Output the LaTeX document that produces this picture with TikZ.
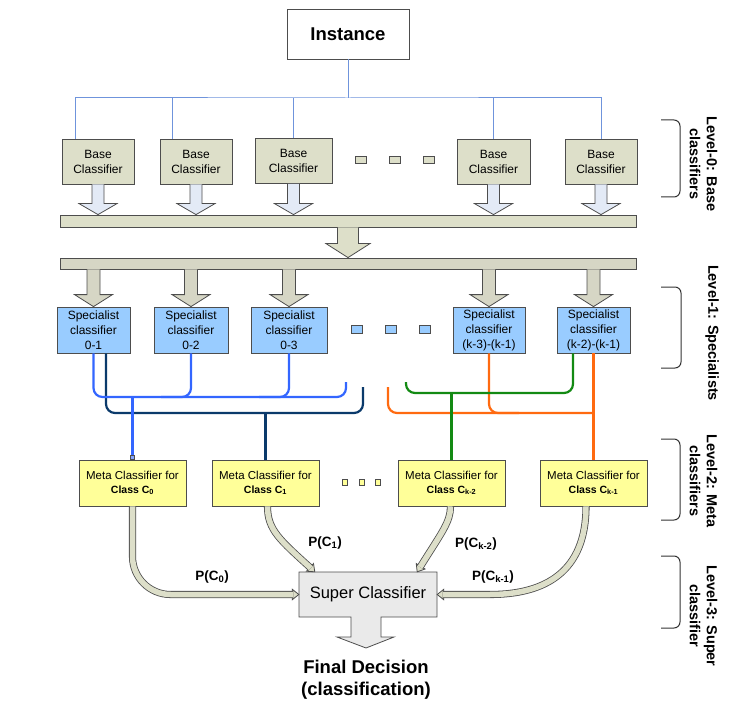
\documentclass[tikz,border=0pt]{standalone}
\usepackage{fontspec}
\setmainfont{Liberation Sans}
\usetikzlibrary{calc}

\definecolor{baseFill}{HTML}{DDDFC9}
\definecolor{barGray}{HTML}{D6D6C5}
\definecolor{blockBlue}{HTML}{E3EAF6}
\definecolor{specFill}{HTML}{99CCFF}
\definecolor{metaFill}{HTML}{FFFF99}
\definecolor{superFill}{HTML}{EAEAEA}
\definecolor{edgeGray}{HTML}{4D4D4D}
\definecolor{instLine}{HTML}{6F94DC}
\definecolor{wireBlue}{HTML}{3366FF}
\definecolor{wireNavy}{HTML}{0B3A6B}
\definecolor{wireOrange}{HTML}{FF6A10}
\definecolor{wireGreen}{HTML}{138A13}

% straight block arrow pointing down: style, from, to, shaft half width, head half width, head length
\newcommand\blockdown[6]{%
  \filldraw[#1] let \p1=(#2), \p2=(#3) in
    (\x1-#4,\y1) -- (\x1-#4,\y2+#6) -- (\x1-#5,\y2+#6) -- (\x1,\y2)
    -- (\x1+#5,\y2+#6) -- (\x1+#4,\y2+#6) -- (\x1+#4,\y1);}

% head of a hollow curved arrow: tip, point behind the tip, name of the shaft end
\newcommand\fathead[3]{%
  \path ($(#1)!6.5pt!(#2)$) coordinate (#3-b) ($(#1)!5.5pt!(#2)$) coordinate (#3);
  \filldraw[fatheadstyle] ($(#3-b)!5.2pt!90:(#1)$) -- (#1) -- ($(#3-b)!5.2pt!-90:(#1)$) -- cycle;}

\begin{document}
\begin{tikzpicture}[x=1pt,y=-1pt,
  box/.style={draw=edgeGray, line width=0.8pt, inner sep=0pt, align=center},
  instbox/.style={box, fill=white, minimum width=122pt, minimum height=50pt,
    font=\bfseries\fontsize{18.5}{22}\selectfont},
  basebox/.style={box, fill=baseFill, minimum width=72pt, minimum height=45pt,
    font=\fontsize{12}{15}\selectfont},
  specbox/.style={box, fill=specFill, minimum width=73pt, minimum height=46pt,
    font=\fontsize{12}{15}\selectfont},
  metabox/.style={box, fill=metaFill, minimum width=107pt, minimum height=46pt,
    font=\fontsize{11.5}{14}\selectfont},
  bar/.style={draw=edgeGray, line width=0.8pt, inner sep=0pt, minimum width=576pt},
  dotbox/.style={draw=edgeGray, line width=0.6pt, inner sep=0pt},
  smallarrow/.style={draw=edgeGray, line width=0.8pt, fill=blockBlue},
  midarrow/.style={draw=edgeGray, line width=0.8pt, fill=baseFill},
  specarrow/.style={draw=edgeGray, line width=0.8pt, fill=barGray},
  instwire/.style={draw=instLine, line width=1pt},
  wire/.style={line width=2.2pt, rounded corners=9pt},
  drop/.style={line width=2.2pt},
  fatshaft/.style={draw=edgeGray, line width=0.8pt, double=baseFill, double distance=5.5pt},
  fatheadstyle/.style={draw=edgeGray, line width=0.8pt, fill=baseFill, line join=miter},
  plabel/.style={font=\bfseries\fontsize{13.5}{16}\selectfont},
  brace/.style={draw=black!80, line width=1pt, rounded corners=6pt},
  leveltext/.style={rotate=-90, align=center, inner sep=0pt,
    font=\bfseries\fontsize{14.5}{17}\selectfont}]

\path[use as bounding box] (0,0) rectangle (756,706);

% ---------------- Level 0 ----------------
\node[instbox] (inst) at (348,34) {Instance};

\node[basebox] (b1) at (98,161.5) {Base\\Classifier};
\node[basebox] (b2) at (196,161.5) {Base\\Classifier};
\node[basebox, minimum width=77pt] (b3) at (293.5,161) {Base\\Classifier};
\node[basebox, minimum width=73pt] (b4) at (493.5,161.5) {Base\\Classifier};
\node[basebox] (b5) at (601,161.5) {Base\\Classifier};

\node[dotbox, fill=baseFill, minimum width=11pt, minimum height=7pt] (bd1) at (360.5,160) {};
\node[dotbox, fill=baseFill, minimum width=11pt, minimum height=7pt] (bd2) at (394.5,160) {};
\node[dotbox, fill=baseFill, minimum width=11pt, minimum height=7pt] (bd3) at (428.5,160) {};

\coordinate (ibus) at (348,98);
\coordinate (t1) at ($(b1.north west)+(14,0)$);
\coordinate (t2) at ($(b2.north west)+(13,0)$);
\draw[instwire] (inst.south) -- (ibus);
\draw[instwire] (t1) |- (ibus) -| (b5.north);
\draw[instwire] (t2 |- ibus) -- (t2);
\draw[instwire] (b3.north |- ibus) -- (b3.north);
\draw[instwire] (b4.north |- ibus) -- (b4.north);

% collecting bars
\node[bar, fill=baseFill, minimum height=12pt] (bar1) at (348,221) {};
\node[bar, fill=barGray, minimum height=11pt] (bar2) at (348,263.5) {};

\foreach \b in {b1,b2,b3,b4,b5}{%
  \blockdown{smallarrow}{\b.south}{\b.south |- bar1.north}{6pt}{19pt}{11pt}}
\blockdown{midarrow}{bar1.south}{bar2.north}{10.5pt}{22pt}{14pt}

% ---------------- Level 1 ----------------
\node[specbox] (s1) at (93.5,330) {Specialist\\classifier\\0-1};
\node[specbox, minimum width=74pt] (s2) at (191,330) {Specialist\\classifier\\0-2};
\node[specbox, minimum width=76pt] (s3) at (289,330) {Specialist\\classifier\\0-3};
\node[specbox, minimum width=72pt] (s4) at (489,330) {Specialist\\classifier\\(k-3)-(k-1)};
\node[specbox] (s5) at (593.5,330) {Specialist\\classifier\\(k-2)-(k-1)};

\node[dotbox, fill=specFill, minimum width=11pt, minimum height=8pt] (sd1) at (356.5,329) {};
\node[dotbox, fill=specFill, minimum width=11pt, minimum height=8pt] (sd2) at (390.5,329) {};
\node[dotbox, fill=specFill, minimum width=11pt, minimum height=8pt] (sd3) at (424.5,329) {};

\foreach \s in {s1,s2,s3,s4,s5}{%
  \blockdown{specarrow}{\s.north |- bar2.south}{\s.north}{6.5pt}{19pt}{12pt}}

% ---------------- Level 2 ----------------
\node[metabox] (m1) at (132.5,483) {Meta Classifier for\\{\bfseries\fontsize{10.5}{14}\selectfont Class C\textsubscript{0}}};
\node[metabox] (m2) at (265.5,483) {Meta Classifier for\\{\bfseries\fontsize{10.5}{14}\selectfont Class C\textsubscript{1}}};
\node[metabox] (m3) at (451.5,483) {Meta Classifier for\\{\bfseries\fontsize{10.5}{14}\selectfont Class C\textsubscript{k-2}}};
\node[metabox] (m4) at (593.5,483) {Meta Classifier for\\{\bfseries\fontsize{10.5}{14}\selectfont Class C\textsubscript{k-1}}};

\node[dotbox, fill=metaFill, minimum width=5pt, minimum height=6pt] (md1) at (345,482) {};
\node[dotbox, fill=metaFill, minimum width=5pt, minimum height=6pt] (md2) at (362,482) {};
\node[dotbox, fill=metaFill, minimum width=5pt, minimum height=6pt] (md3) at (378,482) {};

% wiring between specialists and meta classifiers
\coordinate (yb) at (0,397);
\coordinate (yn) at (0,413);
\coordinate (yo) at (0,413);
\coordinate (yg) at (0,393);
\coordinate (bl) at (346,382);
\coordinate (nr) at (363,387);
\coordinate (ol) at (388,387);
\coordinate (gl) at (406,382);
\coordinate (n1) at ($(s1.south)+(12.5,0)$);
\coordinate (g5) at ($(s5.south)+(-20.5,0)$);

\draw[wire, wireNavy] (n1) -- (n1 |- yn) -- (nr |- yn) -- (nr);
\draw[drop, wireNavy] (m2.north |- yn) -- (m2.north);

\draw[wire, wireBlue] (s1.south) -- (s1.south |- yb) -- (bl |- yb) -- (bl);
\draw[wire, wireBlue] (s2.south) -- (s2.south |- yb) -- ++(-30,0);
\draw[wire, wireBlue] (s3.south) -- (s3.south |- yb) -- ++(-30,0);
\draw[drop, wireBlue] (m1.north |- yb) -- (m1.north);
\draw[draw=edgeGray, fill=wireBlue!60, line width=0.4pt]
  ($(m1.north)+(-2,-4)$) rectangle ($(m1.north)+(2,0)$);

\draw[wire, wireOrange] (ol) -- (ol |- yo) -- (m4.north |- yo);
\draw[wire, wireOrange] (s4.south) -- (s4.south |- yo) -- ++(30,0);
\draw[drop, wireOrange] (s5.south) -- (m4.north);

\draw[wire, wireGreen] (gl) -- (gl |- yg) -- (g5 |- yg) -- (g5);
\draw[drop, wireGreen] (m3.north |- yg) -- (m3.north);

% ---------------- Level 3 ----------------
\filldraw[draw=edgeGray, line width=0.8pt, fill=superFill]
  (299,572) -- (437,572) -- (437,617) -- (381,617) -- (381,637) -- (394,637)
  -- (366,648) -- (337,637) -- (351,637) -- (351,617) -- (299,617) -- cycle;
\node[inner sep=0pt, minimum width=138pt, minimum height=45pt,
  font=\fontsize{16.5}{20}\selectfont] (sup) at (368,594.5) {Super Classifier};

\node[align=center, font=\bfseries\fontsize{18.5}{22}\selectfont] (final) at (366,680)
  {Final Decision\\(classification)};

% probability arrows into the super classifier
\coordinate (c1tip) at ($(sup.north west)+(16,0)$);
\coordinate (c1aim) at (280,540);
\coordinate (c2tip) at ($(sup.north east)+(-20,0)$);
\coordinate (c2aim) at (442,532);
\coordinate (c3aim) at (490,594.5);

\fathead{sup.west}{m1.south |- sup.west}{c0e}
\draw[fatshaft, rounded corners=38pt] (m1.south) -- (m1.south |- sup.west) -- (c0e);

\fathead{c1tip}{c1aim}{c1e}
\draw[fatshaft] ($(m2.south)+(2,0)$) .. controls (267.5,530) and (c1aim) .. (c1e);

\fathead{c2tip}{c2aim}{c2e}
\draw[fatshaft] ($(m3.south)+(-1,0)$) .. controls (450.5,522) and (c2aim) .. (c2e);

\fathead{sup.east}{c3aim}{c3e}
\draw[fatshaft] ($(m4.south)+(-7.5,0)$) .. controls (586,572) and (545,594.5) .. (c3aim) -- (c3e);

\node[plabel] (p0) at (212,577) {P(C\textsubscript{0})};
\node[plabel] (p1) at (325,543) {P(C\textsubscript{1})};
\node[plabel] (p2) at (476,544) {P(C\textsubscript{k-2})};
\node[plabel] (p3) at (493,577) {P(C\textsubscript{k-1})};

% ---------------- level annotations ----------------
\draw[brace] (661,120) -- (680,120) -- (680,197) -- (661,197);
\draw[brace] (661,287) -- (681,287) -- (681,368) -- (661,368);
\draw[brace] (661,439) -- (680,439) -- (680,520) -- (661,520);
\draw[brace] (661,556) -- (680,556) -- (680,628) -- (661,628);

\node[leveltext] (lv0) at (703.5,164) {Level-0: Base\\classifiers};
\node[leveltext] (lv1) at (712,333) {Level-1: Specialists};
\node[leveltext] (lv2) at (703.5,481) {Level-2: Meta\\classifiers};
\node[leveltext] (lv3) at (703.5,616) {Level-3: Super\\classifier};

\end{tikzpicture}
\end{document}
